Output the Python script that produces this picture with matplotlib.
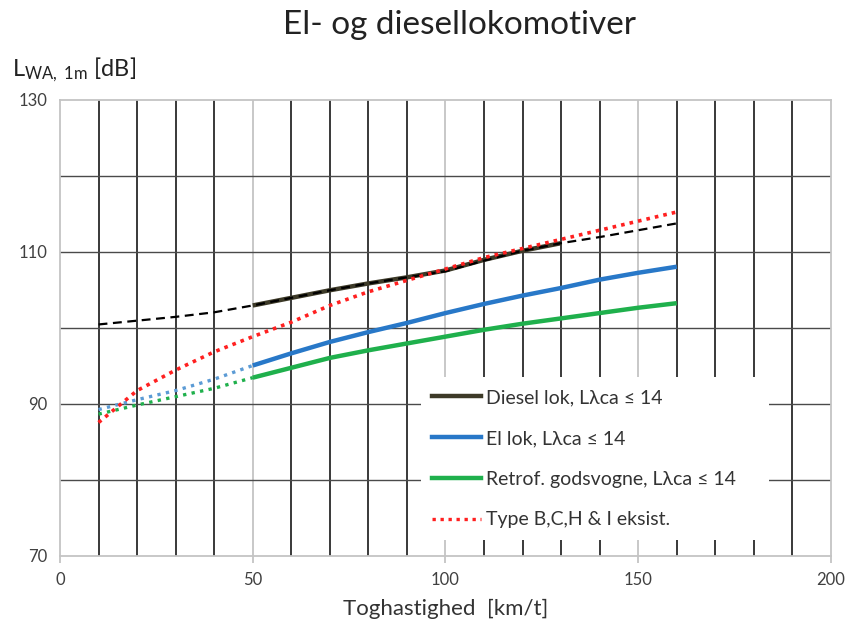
import numpy as np
import matplotlib
matplotlib.use('Agg')
import matplotlib.pyplot as plt
from matplotlib.lines import Line2D

plt.rcParams['font.family'] = ['Lato', 'DejaVu Sans']
plt.rcParams['mathtext.fontset'] = 'custom'
plt.rcParams['mathtext.rm'] = 'Lato'
plt.rcParams['mathtext.it'] = 'Lato'

# Speeds (km/t)
speed = [10, 20, 30, 40, 50, 60, 70, 80, 90, 100, 110, 120, 130, 140, 150, 160]

# Diesel lok, extrapolated (dashed) over the full range, measured part 50-130
diesel_ext = [100.4, 100.9, 101.4, 102.0, 102.9, 103.9, 104.9, 105.8, 106.6,
              107.4, 108.8, 110.1, 111.1, 111.9, 112.8, 113.7]
diesel_speed = [50, 60, 70, 80, 90, 100, 110, 120, 130]
diesel = [102.9, 103.9, 104.9, 105.8, 106.6, 107.5, 108.9, 110.1, 111.1]

# El lok
el_ext_speed = [10, 20, 30, 40, 50]
el_ext = [89.2, 90.5, 91.7, 93.2, 95.0]
el_speed = [50, 60, 70, 80, 90, 100, 110, 120, 130, 140, 150, 160]
el = [95.0, 96.6, 98.1, 99.4, 100.6, 101.9, 103.1, 104.2, 105.2, 106.3, 107.2, 108.0]

# Retrof. godsvogne
gods_ext_speed = [10, 20, 30, 40, 50]
gods_ext = [88.6, 89.8, 90.9, 92.0, 93.4]
gods_speed = [50, 60, 70, 80, 90, 100, 110, 120, 130, 140, 150, 160]
gods = [93.4, 94.7, 96.0, 97.0, 97.9, 98.8, 99.7, 100.5, 101.2, 101.9, 102.6, 103.2]

# Type B,C,H & I eksist.
type_speed = [10, 20, 30, 40, 50, 60, 70, 80, 90, 100, 110, 120, 130, 140, 150, 160]
type_bchi = [87.5, 91.7, 94.4, 96.8, 98.8, 100.7, 102.9, 104.7, 106.2, 107.7,
             109.2, 110.4, 111.6, 112.8, 114.0, 115.2]

labels = ['Diesel lok, L\u03bbca \u2264 14', 'El lok, L\u03bbca \u2264 14',
          'Retrof. godsvogne, L\u03bbca \u2264 14', 'Type B,C,H & I eksist.']

fig = plt.figure(figsize=(8.53, 6.32), dpi=100)
ax = fig.add_axes([60 / 853, (632 - 555.5) / 632, 771 / 853, 456 / 632])

ax.set_xlim(0, 200)
ax.set_ylim(70, 130)

# grid: every 10 km/t dark, every 50 light; every 10 dB grey
for v in range(10, 200, 10):
    col = '#c4c4c4' if v % 50 == 0 else '#2a2a2a'
    ax.axvline(v, color=col, lw=1.3, zorder=1)
for l in range(80, 130, 10):
    ax.axhline(l, color='#4a4a4a', lw=1.0, zorder=1)

for s in ax.spines.values():
    s.set_color('#c4c4c4')
    s.set_linewidth(1.3)

ax.set_xticks([0, 50, 100, 150, 200])
ax.set_yticks([70, 90, 110, 130])
ax.tick_params(axis='both', colors='#c4c4c4', labelcolor='#404040',
               labelsize=12, length=5, width=1.3)
ax.tick_params(axis='x', pad=7)
ax.tick_params(axis='y', length=0, pad=9)

# Diesel
ax.plot(diesel_speed, diesel, color='#3d3a28', lw=3.2, zorder=3, solid_capstyle='butt')
ax.plot(speed, diesel_ext, color='black', lw=1.6, ls=(0, (4, 2.5)), zorder=4)
# El lok
ax.plot(el_speed, el, color='#2878c8', lw=3.2, zorder=3, solid_capstyle='butt')
ax.plot(el_ext_speed, el_ext, color='#5b9bd5', lw=2.4, ls=(0, (1, 1.6)), zorder=3)
# Godsvogne
ax.plot(gods_speed, gods, color='#1fb04c', lw=3.2, zorder=3, solid_capstyle='butt')
ax.plot(gods_ext_speed, gods_ext, color='#1fb04c', lw=2.4, ls=(0, (1, 1.6)), zorder=3)
# Type B,C,H & I
ax.plot(type_speed, type_bchi, color='#ff2020', lw=2.6, ls=(0, (1, 1.4)), zorder=5)

handles = [Line2D([], [], color='#3d3a28', lw=3.2),
           Line2D([], [], color='#2878c8', lw=3.2),
           Line2D([], [], color='#1fb04c', lw=3.2),
           Line2D([], [], color='#ff2020', lw=2.4, ls=(0, (1, 1.4)))]
leg = ax.legend(handles, labels, loc='lower left', bbox_to_anchor=(0.468, 0.034, 0.452, 0.368),
                mode='expand', fontsize=14, labelspacing=1.22, handlelength=2.5,
                handletextpad=0.25, borderaxespad=0, frameon=True, fancybox=False,
                framealpha=1, facecolor='white', edgecolor='none', borderpad=0.6)
leg.set_zorder(10)
for t in leg.get_texts():
    t.set_color('#333333')

fig.text(460 / 853, 1 - 34 / 632, 'El- og diesellokomotiver', ha='center', va='baseline',
         fontsize=24, color='#222222')
fig.text(12 / 853, 1 - 76 / 632, r'L$_{\mathrm{WA,\ 1m}}$ [dB]', ha='left', va='baseline',
         fontsize=17, color='#222222')
ax.set_xlabel('Toghastighed  [km/t]', fontsize=16, color='#333333', labelpad=8)

fig.savefig('out.png', dpi=100)
